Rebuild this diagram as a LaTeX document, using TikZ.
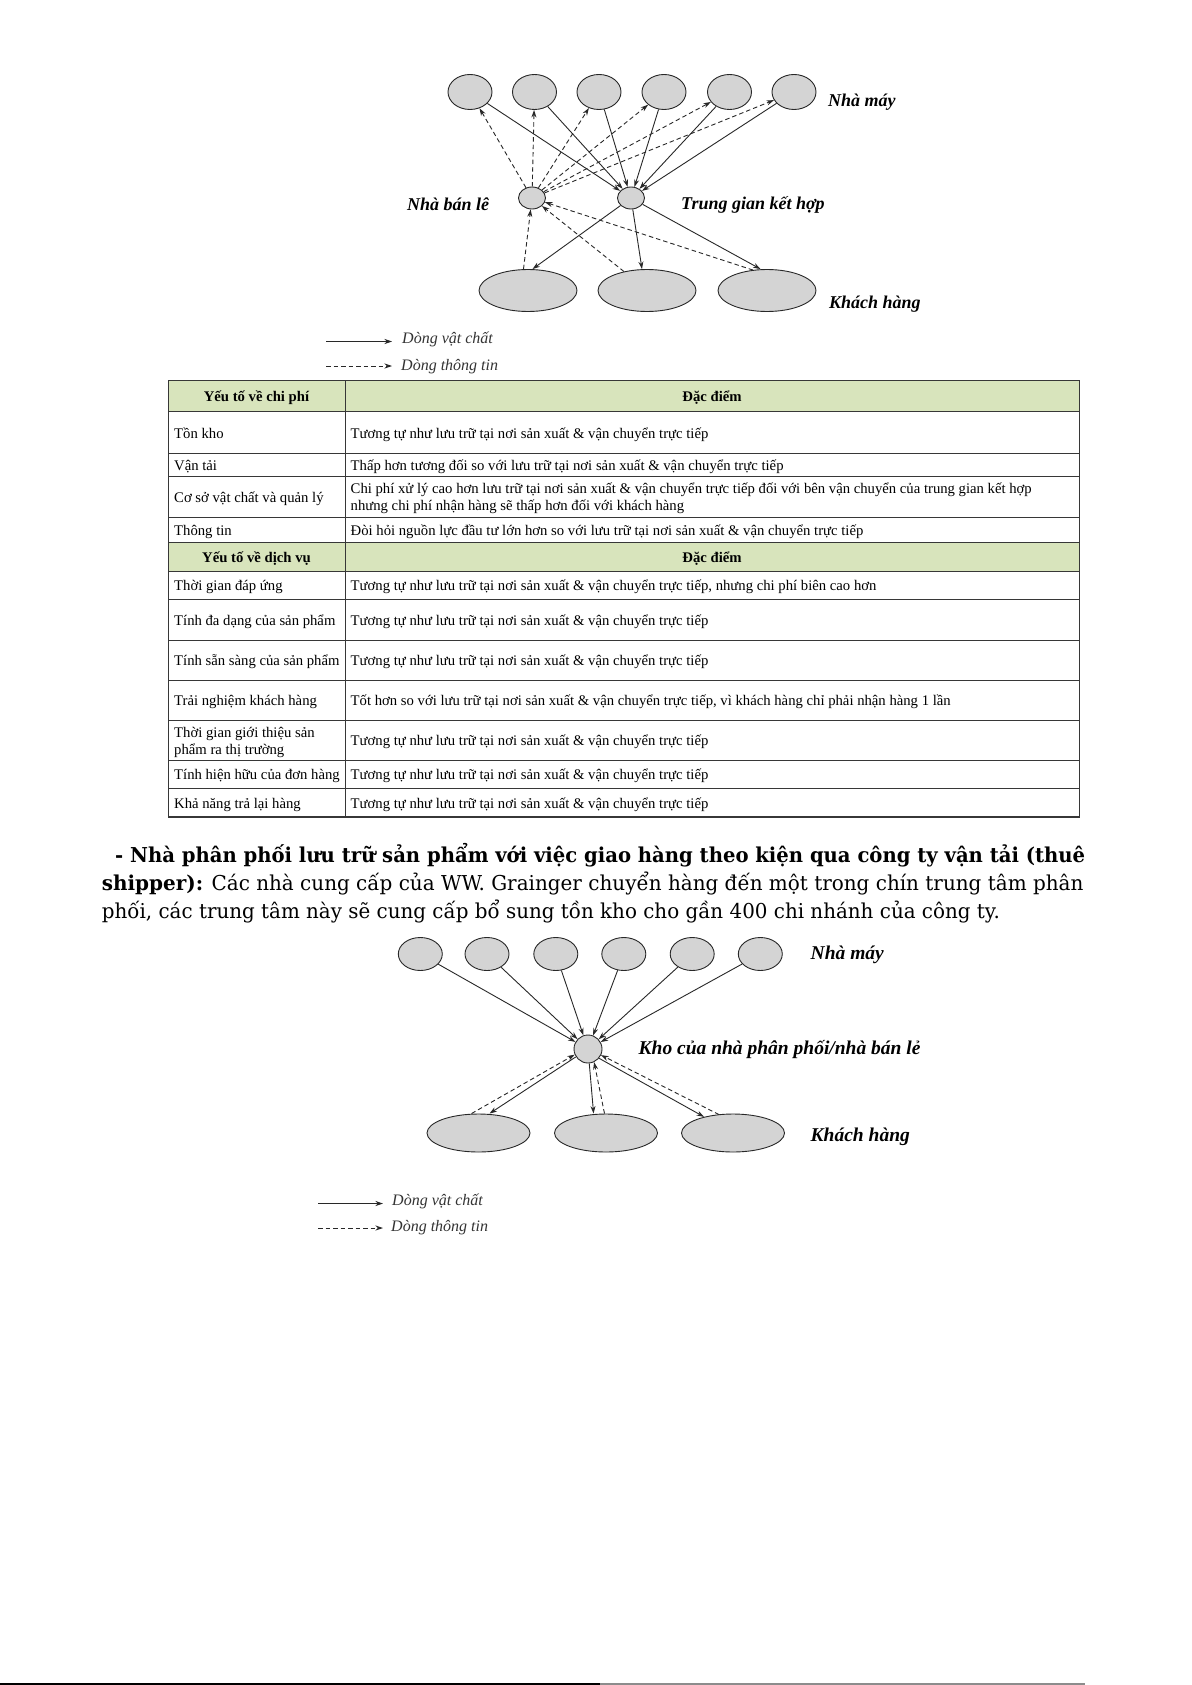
\documentclass[tikz,border=0pt]{standalone}
\usepackage{fontspec}
\usepackage{graphicx}
\setmainfont{Liberation Serif}
\newfontfamily\parafont{DejaVu Serif}
\usetikzlibrary{arrows.meta,shapes.geometric}
\definecolor{hdrgreen}{RGB}{216,228,188}
\definecolor{nodefill}{RGB}{212,212,212}
\definecolor{linec}{RGB}{40,40,40}
\definecolor{gridc}{RGB}{55,55,55}
\begin{document}
\begin{tikzpicture}[x=1pt,y=-1pt,
 nd/.style={ellipse,draw=linec,line width=0.9pt,fill=nodefill,inner sep=0pt},
 mat/.style={draw=linec,line width=0.9pt,-{Stealth[length=7.5pt,width=5pt]}},
 inf/.style={mat,dash pattern=on 4.5pt off 3pt},
 lab/.style={inner sep=0pt,anchor=west,text height=0.72em,text depth=0.22em,font=\fontsize{18}{21}\selectfont\bfseries\itshape},
 labb/.style={lab,font=\fontsize{19.5}{23}\selectfont\bfseries\itshape},
 leg/.style={inner sep=0pt,anchor=west,text height=0.72em,text depth=0.22em,text=black!80,font=\fontsize{16}{19}\selectfont\itshape},
 cell/.style={inner sep=0pt,anchor=west,align=left,text height=0.72em,text depth=0.22em,font=\fontsize{14.7}{17}\selectfont},
 hcell/.style={inner sep=0pt,text height=0.72em,text depth=0.22em,font=\fontsize{14.7}{17}\selectfont\bfseries},
 gridline/.style={draw=gridc,line width=1pt},
 para/.style={inner sep=0pt,anchor=base west},
]
\fill[white] (0,0) rectangle (1191,1685);
\useasboundingbox (0,0) rectangle (1191,1685);

% ---------- top diagram ----------
\foreach \n/\x in {1/470,2/534.5,3/599,4/664,5/729.5,6/794}
  \node[nd,minimum width=44pt,minimum height=35pt] (tf\n) at (\x,92) {};
\node[nd,minimum width=27pt,minimum height=22pt] (tr) at (532,198) {};
\node[nd,minimum width=27pt,minimum height=22pt] (th) at (631,198) {};
\node[nd,minimum width=98pt,minimum height=42pt] (tc1) at (528,290.5) {};
\node[nd,minimum width=98pt,minimum height=42pt] (tc2) at (647,290.5) {};
\node[nd,minimum width=98pt,minimum height=42pt] (tc3) at (767,290.5) {};

\node[lab] (tlf) at (828,104.5) {Nhà máy};
\node[lab] (tlr) at (407,208.5) {Nhà bán lê};
\node[lab] (tlh) at (681,207.5) {Trung gian kết hợp};
\node[lab] (tlc) at (829,306) {Khách hàng};

\foreach \n in {1,...,6} {
  \draw[mat] (tf\n) -- (th);
  \draw[inf] (tr) -- (tf\n);
}
\draw[mat] (th) -- ([xshift=4.5pt]tc1.north);
\draw[mat] (th) -- ([xshift=-5pt]tc2.north);
\draw[mat] (th) -- ([xshift=-6.5pt]tc3.north);
\draw[inf] ([xshift=-4.5pt]tc1.north) -- (tr);
\draw[inf] ([xshift=-23pt,yshift=-2.5pt]tc2.north) -- (tr);
\draw[inf] ([xshift=-14pt,yshift=-1pt]tc3.north) -- (tr);

% legend top
\coordinate (la1) at (326,341.5); \coordinate (la2) at (392,341.5);
\draw[mat] (la1) -- (la2);
\node[leg] (lt1) at (402,340.5) {Dòng vật chất};
\coordinate (lb1) at (326,366); \coordinate (lb2) at (392,366);
\draw[inf] (lb1) -- (lb2);
\node[leg] (lt2) at (401,367.5) {Dòng thông tin};

% ---------- table ----------
\fill[hdrgreen] (168.5,380.5) rectangle (1079.5,411.5);
\fill[hdrgreen] (168.5,542) rectangle (1079.5,571);
\foreach \y in {411.5,453.5,476,517,542,571,599,640,680,720,760,788.5}
  \draw[gridline] (168.5,\y) -- (1079.5,\y);
\draw[gridline] (345,380.5) -- (345,817);
\draw[draw=gridc,line width=1.4pt] (168.5,380.5) rectangle (1079.5,817);

\begin{scope}[yshift=-3pt]
\node[hcell] at (256.5,396) {Yếu tố về chi phí};
\node[hcell] at (712,396) {Đặc điểm};
\node[cell] at (174,432.5) {Tồn kho};
\node[cell] at (350.5,432.5) {Tương tự như lưu trữ tại nơi sản xuất \& vận chuyển trực tiếp};
\node[cell] at (174,464.75) {Vận tải};
\node[cell] at (350.5,464.75) {Thấp hơn tương đối so với lưu trữ tại nơi sản xuất \& vận chuyển trực tiếp};
\node[cell] at (174,496.5) {Cơ sở vật chất và quản lý};
\node[cell] at (350.5,488) {Chi phí xử lý cao hơn lưu trữ tại nơi sản xuất \& vận chuyển trực tiếp đối với bên vận chuyển của trung gian kết hợp};
\node[cell] at (350.5,505.2) {nhưng chi phí nhận hàng sẽ thấp hơn đối với khách hàng};
\node[cell] at (174,529.5) {Thông tin};
\node[cell] at (350.5,529.5) {Đòi hỏi nguồn lực đầu tư lớn hơn so với lưu trữ tại nơi sản xuất \& vận chuyển trực tiếp};
\node[hcell] at (256.5,556.5) {Yếu tố về dịch vụ};
\node[hcell] at (712,556.5) {Đặc điểm};
\node[cell] at (174,585) {Thời gian đáp ứng};
\node[cell] at (350.5,585) {Tương tự như lưu trữ tại nơi sản xuất \& vận chuyển trực tiếp, nhưng chi phí biên cao hơn};
\node[cell] at (174,619.5) {Tính đa dạng của sản phẩm};
\node[cell] at (350.5,619.5) {Tương tự như lưu trữ tại nơi sản xuất \& vận chuyển trực tiếp};
\node[cell] at (174,660) {Tính sẵn sàng của sản phẩm};
\node[cell] at (350.5,660) {Tương tự như lưu trữ tại nơi sản xuất \& vận chuyển trực tiếp};
\node[cell] at (174,700) {Trải nghiệm khách hàng};
\node[cell] at (350.5,700) {Tốt hơn so với lưu trữ tại nơi sản xuất \& vận chuyển trực tiếp, vì khách hàng chỉ phải nhận hàng 1 lần};
\node[cell] at (174,731.5) {Thời gian giới thiệu sản};
\node[cell] at (174,748.7) {phẩm ra thị trường};
\node[cell] at (350.5,740) {Tương tự như lưu trữ tại nơi sản xuất \& vận chuyển trực tiếp};
\node[cell] at (174,774.25) {Tính hiện hữu của đơn hàng};
\node[cell] at (350.5,774.25) {Tương tự như lưu trữ tại nơi sản xuất \& vận chuyển trực tiếp};
\node[cell] at (174,802.75) {Khả năng trả lại hàng};
\node[cell] at (350.5,802.75) {Tương tự như lưu trữ tại nơi sản xuất \& vận chuyển trực tiếp};
\end{scope}

% ---------- paragraph ----------
\node[para] (p1) at (115,862) {\resizebox{970pt}{\height}{\parafont\fontsize{20.5}{24}\selectfont\bfseries - Nhà phân phối lưu trữ sản phẩm với việc giao hàng theo kiện qua công ty vận tải (thuê}};
\node[para] (p2) at (101.7,890.5) {\resizebox{981.5pt}{\height}{\parafont\fontsize{20.5}{24}\selectfont\textbf{shipper):} Các nhà cung cấp của WW. Grainger chuyển hàng đến một trong chín trung tâm phân}};
\node[para] (p3) at (101.7,918.5) {\resizebox{898pt}{\height}{\parafont\fontsize{20.5}{24}\selectfont phối, các trung tâm này sẽ cung cấp bổ sung tồn kho cho gần 400 chi nhánh của công ty.}};

% ---------- bottom diagram ----------
\foreach \n/\x in {1/420.3,2/487,3/555.8,4/623.8,5/692.2,6/760.3}
  \node[nd,minimum width=44pt,minimum height=33pt] (bf\n) at (\x,954) {};
\node[nd,minimum width=28pt,minimum height=28pt] (bh) at (588,1049) {};
\node[nd,minimum width=103pt,minimum height=38pt] (bc1) at (478.5,1133) {};
\node[nd,minimum width=103pt,minimum height=38pt] (bc2) at (606,1133) {};
\node[nd,minimum width=103pt,minimum height=38pt] (bc3) at (733,1133) {};

\node[labb] (blf) at (810.5,957) {Nhà máy};
\node[labb] (blh) at (638.5,1051.5) {Kho của nhà phân phối/nhà bán lẻ};
\node[labb] (blc) at (810.5,1139) {Khách hàng};

\foreach \n in {1,...,6} \draw[mat] (bf\n) -- (bh);
\draw[mat] (bh.213) -- ([xshift=11pt]bc1.north);
\draw[inf] ([xshift=-7pt]bc1.north) -- (bh.203);
\draw[mat] (bh.275) -- ([xshift=-12.4pt]bc2.north);
\draw[inf] ([xshift=-1.5pt]bc2.north) -- (bh.295);
\draw[mat] (bh.320) -- (bc3);
\draw[inf] ([xshift=-14pt,yshift=-1pt]bc3.north) -- (bh.335);

% legend bottom
\coordinate (lc1) at (318,1203.5); \coordinate (lc2) at (383,1203.5);
\draw[mat] (lc1) -- (lc2);
\node[leg] (lt3) at (392,1203) {Dòng vật chất};
\coordinate (ld1) at (318,1228); \coordinate (ld2) at (383,1228);
\draw[inf] (ld1) -- (ld2);
\node[leg] (lt4) at (391,1229) {Dòng thông tin};

% page edge line
\draw[black!45,line width=1.5pt] (0,1684) -- (1085,1684);
\draw[black,line width=1.5pt] (0,1684) -- (600,1684);
\end{tikzpicture}
\end{document}
